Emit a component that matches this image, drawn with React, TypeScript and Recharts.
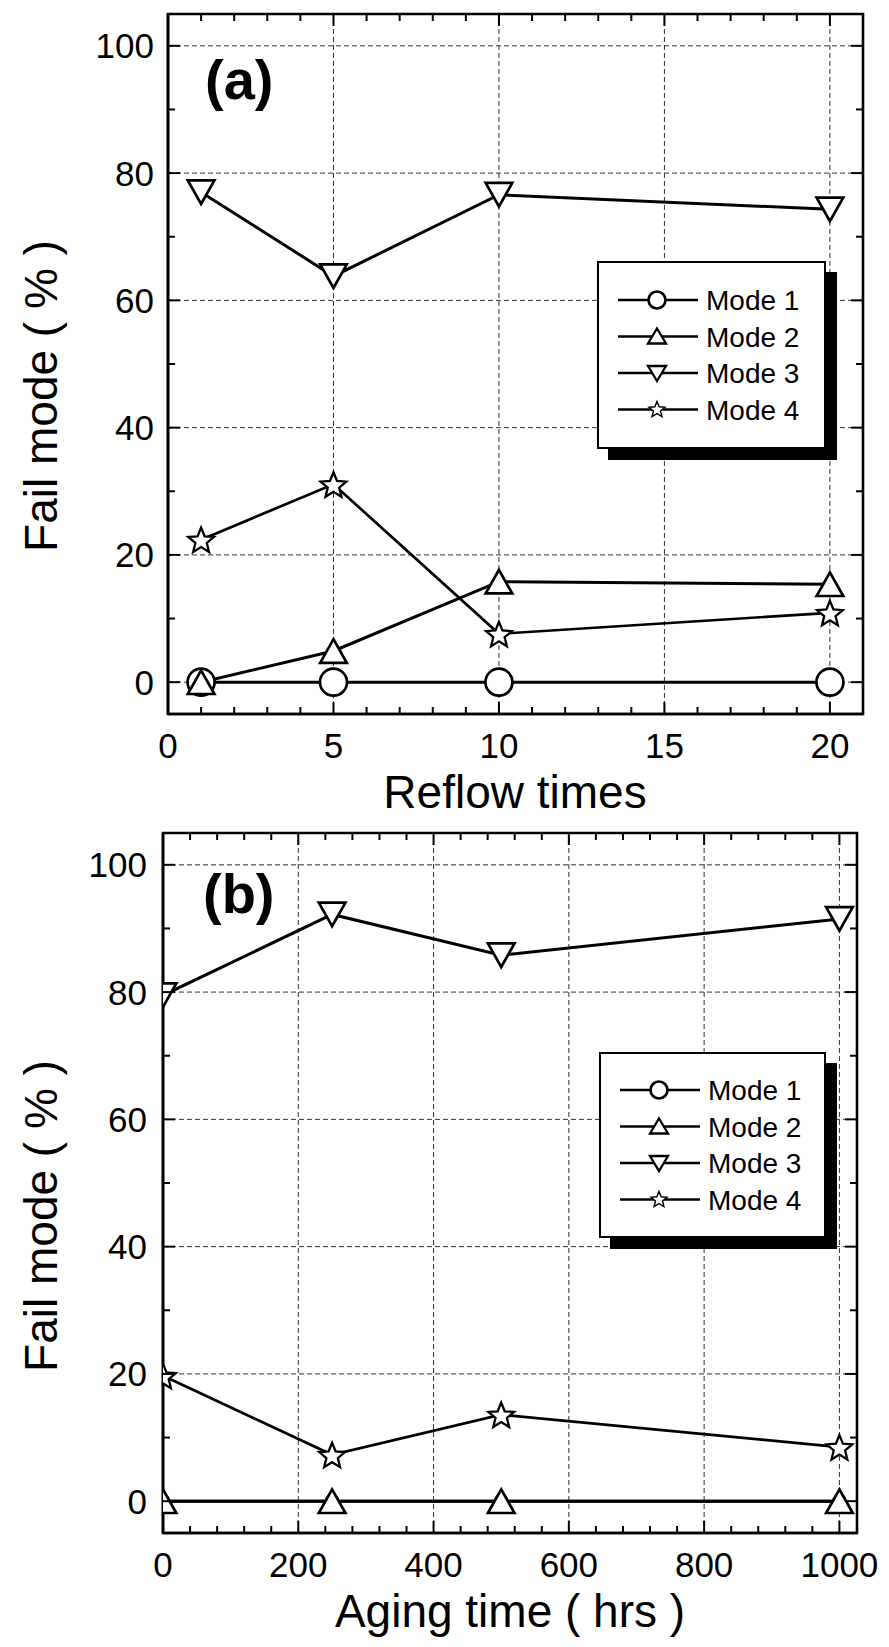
import { LineChart, Line, XAxis, YAxis, ReferenceLine, ReferenceArea, Legend } from 'recharts'

const FONT = '"Liberation Sans", Arial, sans-serif'

// panel (a): reflow
const reflowTimes = [1, 5, 10, 20]
const reflowMode1 = [0, 0, 0, 0]
const reflowMode2 = [0, 4.9, 15.8, 15.4]
const reflowMode3 = [77, 63.8, 76.6, 74.3]
const reflowMode4 = [22.4, 31.1, 7.6, 10.9]

// panel (b): aging
const agingTimes = [0, 250, 500, 1000]
const agingMode1 = [0, 0, 0, 0]
const agingMode2 = [0, 0, 0, 0]
const agingMode3 = [79.5, 92.2, 85.8, 91.5]
const agingMode4 = [19.7, 7.3, 13.6, 8.5]

const modeNames = ['Mode 1', 'Mode 2', 'Mode 3', 'Mode 4']

const yMajorTicks = [0, 20, 40, 60, 80, 100]
const yMinorTicks = [10, 30, 50, 70, 90]
const reflowMajorTicks = [0, 5, 10, 15, 20]
const reflowMinorTicks = [1, 2, 3, 4, 6, 7, 8, 9, 11, 12, 13, 14, 16, 17, 18, 19]
const agingMajorTicks = [0, 200, 400, 600, 800, 1000]
const agingMinorTicks = [40, 80, 120, 160, 240, 280, 320, 360, 440, 480, 520, 560, 640, 680, 720, 760, 840, 880, 920, 960]

const buildRows = (xs: number[], m1: number[], m2: number[], m3: number[], m4: number[]) =>
  xs.map((x, i) => ({ x, m1: m1[i], m2: m2[i], m3: m3[i], m4: m4[i] }))

const reflowRows = buildRows(reflowTimes, reflowMode1, reflowMode2, reflowMode3, reflowMode4)
const agingRows = buildRows(agingTimes, agingMode1, agingMode2, agingMode3, agingMode4)

const SW = 2.7

function Circle({ cx, cy, r = 13.5 }: any) {
  return <circle cx={cx} cy={cy} r={r} fill="#fff" stroke="#000" strokeWidth={SW} />
}
function TriUp({ cx, cy }: any) {
  const w = 13.3, h = 11.8
  return <polygon points={`${cx},${cy - h} ${cx + w},${cy + h} ${cx - w},${cy + h}`} fill="#fff" stroke="#000" strokeWidth={SW} />
}
function TriDown({ cx, cy }: any) {
  const w = 13.3, h = 11.8
  return <polygon points={`${cx - w},${cy - h} ${cx + w},${cy - h} ${cx},${cy + h}`} fill="#fff" stroke="#000" strokeWidth={SW} />
}
function Star({ cx, cy }: any) {
  const R = 13.5, r = 6
  const pts: string[] = []
  for (let k = 0; k < 10; k++) {
    const a = -Math.PI / 2 + (k * Math.PI) / 5
    const rr = k % 2 === 0 ? R : r
    pts.push(`${cx + rr * Math.cos(a)},${cy + 1.5 + rr * Math.sin(a)}`)
  }
  return <polygon points={pts.join(' ')} fill="#fff" stroke="#000" strokeWidth={2.3} />
}

function LegendBox({ width, height, rowTop }: { width: number; height: number; rowTop: number }) {
  return (
    <div
      style={{
        width,
        height,
        boxSizing: 'border-box',
        border: '2px solid #000',
        background: '#fff',
        boxShadow: '11px 11px 0 #000',
      }}
    >
      <svg width={width - 4} height={height - 4} style={{ display: 'block' }}>
        {modeNames.map((name, i) => {
          const y = rowTop + i * 36.5
          return (
            <g key={name}>
              <line x1={19} x2={99} y1={y} y2={y} stroke="#000" strokeWidth={2.6} />
              {i === 0 ? <Circle cx={58} cy={y} r={8.5} /> : null}
              {i === 1 ? <polygon points={`58,${y - 8} 67,${y + 7} 49,${y + 7}`} fill="#fff" stroke="#000" strokeWidth={2.3} /> : null}
              {i === 2 ? <polygon points={`49,${y - 7} 67,${y - 7} 58,${y + 8}`} fill="#fff" stroke="#000" strokeWidth={2.3} /> : null}
              {i === 3 ? <g transform={`translate(58 ${y}) scale(0.62) translate(-58 ${-y})`}><Star cx={58} cy={y - 1} /></g> : null}
              <text x={107} y={y + 10} fontSize={28} fontFamily={FONT} fill="#000">{name}</text>
            </g>
          )
        })}
      </svg>
    </div>
  )
}

function makeXTick(major: number[], plotTop: number) {
  return (props: any) => {
    const { x, y, payload } = props
    const isMajor = major.includes(payload.value)
    const len = isMajor ? 12 : 7
    return (
      <g>
        <line x1={x} x2={x} y1={y} y2={y - len} stroke="#000" strokeWidth={2} />
        <line x1={x} x2={x} y1={plotTop} y2={plotTop + len} stroke="#000" strokeWidth={2} />
        {isMajor ? (
          <text x={x} y={y + 44} textAnchor="middle" fontSize={35} fontFamily={FONT} fill="#000">
            {payload.value}
          </text>
        ) : null}
      </g>
    )
  }
}

function makeYTick(major: number[], plotRight: number, gap: number) {
  return (props: any) => {
    const { x, y, payload } = props
    const isMajor = major.includes(payload.value)
    const len = isMajor ? 12 : 7
    return (
      <g>
        <line x1={x} x2={x + len} y1={y} y2={y} stroke="#000" strokeWidth={2} />
        <line x1={plotRight} x2={plotRight - len} y1={y} y2={y} stroke="#000" strokeWidth={2} />
        {isMajor ? (
          <text x={x - gap} y={y + 12.5} textAnchor="end" fontSize={35} fontFamily={FONT} fill="#000">
            {payload.value}
          </text>
        ) : null}
      </g>
    )
  }
}

interface PanelProps {
  rows: any[]
  xDomain: [number, number]
  xMajor: number[]
  xMinor: number[]
  xTitle: string
  xTitleX: number
  letter: string
  letterX: number
  letterY: number
  height: number
  margin: { top: number; right: number; left: number; bottom: number }
  yAxisWidth: number
  xAxisHeight: number
  yGap: number
  legendPos: { left: number; top: number; width: number; height: number; rowTop: number }
  smallMode1?: boolean
}

function Panel(p: PanelProps) {
  const plotTop = p.margin.top
  const plotRight = 889 - p.margin.right
  const xTicks = [...p.xMajor, ...p.xMinor].sort((a, b) => a - b)
  const yTicks = [...yMajorTicks, ...yMinorTicks].sort((a, b) => a - b)
  const gridX = p.xMajor.filter((v) => v > p.xDomain[0])
  const ids = { xAxisId: 'x', yAxisId: 'y' }
  const line = { type: 'linear' as const, stroke: '#000', strokeWidth: 3, isAnimationActive: false, activeDot: false as const }

  return (
    <LineChart width={889} height={p.height} data={p.rows} margin={p.margin} style={{ fontFamily: FONT }}>
      <XAxis
        xAxisId="x"
        type="number"
        dataKey="x"
        domain={p.xDomain}
        allowDataOverflow
        ticks={xTicks}
        interval={0}
        height={p.xAxisHeight}
        tickLine={false}
        tickSize={0}
        tickMargin={0}
        axisLine={{ stroke: '#000', strokeWidth: 2.6 }}
        tick={makeXTick(p.xMajor, plotTop)}
        label={{
          content: () => (
            <text x={p.xTitleX} y={p.height - p.xAxisHeight + 94} textAnchor="middle" fontSize={46} fontFamily={FONT} fill="#000">
              {p.xTitle}
            </text>
          ),
        }}
      />
      <YAxis
        yAxisId="y"
        type="number"
        domain={[-5, 105]}
        allowDataOverflow
        ticks={yTicks}
        interval={0}
        width={p.yAxisWidth}
        tickLine={false}
        tickSize={0}
        tickMargin={0}
        axisLine={{ stroke: '#000', strokeWidth: 2.6 }}
        tick={makeYTick(yMajorTicks, plotRight, p.yGap)}
        label={{
          content: () => (
            <text transform="translate(57 396) rotate(-90)" textAnchor="middle" fontSize={46} fontFamily={FONT} fill="#000">
              Fail mode ( % )
            </text>
          ),
        }}
      />
      {yMajorTicks.map((v) => (
        <ReferenceLine key={'h' + v} {...ids} y={v} stroke="#333" strokeWidth={1} strokeDasharray="5 3" />
      ))}
      {gridX.map((v) => (
        <ReferenceLine key={'v' + v} {...ids} x={v} stroke="#333" strokeWidth={1} strokeDasharray="5 3" />
      ))}
      <Line {...ids} {...line} dataKey="m1" name={modeNames[0]} dot={(d: any) => <Circle key={d.index} cx={d.cx} cy={d.cy} r={p.smallMode1 ? 6 : 13.5} />} />
      <Line {...ids} {...line} dataKey="m2" name={modeNames[1]} dot={(d: any) => <TriUp key={d.index} cx={d.cx} cy={d.cy} />} />
      <Line {...ids} {...line} dataKey="m3" name={modeNames[2]} dot={(d: any) => <TriDown key={d.index} cx={d.cx} cy={d.cy} />} />
      <Line {...ids} {...line} dataKey="m4" name={modeNames[3]} strokeWidth={2.7} dot={(d: any) => <Star key={d.index} cx={d.cx} cy={d.cy} />} />
      <ReferenceArea
        {...ids}
        x1={p.xDomain[0]}
        x2={p.xDomain[1]}
        y1={-5}
        y2={105}
        fill="none"
        fillOpacity={0}
        stroke="#000"
        strokeWidth={2.6}
        ifOverflow="visible"
        label={{
          content: () => (
            <text x={p.letterX} y={p.letterY} fontSize={56} fontWeight="bold" fontFamily={FONT} fill="#000">
              {p.letter}
            </text>
          ),
        }}
      />
      <Legend
        layout="vertical"
        align="center"
        verticalAlign="middle"
        wrapperStyle={{ left: p.legendPos.left, top: p.legendPos.top, width: p.legendPos.width, height: p.legendPos.height }}
        content={() => <LegendBox width={p.legendPos.width} height={p.legendPos.height} rowTop={p.legendPos.rowTop} />}
      />
    </LineChart>
  )
}

export default function App() {
  return (
    <div style={{ position: 'absolute', left: 0, top: 0, width: 889, height: 1647, background: '#fff' }}>
      <div style={{ position: 'absolute', left: 0, top: 0 }}>
        <Panel
          rows={reflowRows}
          xDomain={[0, 21]}
          xMajor={reflowMajorTicks}
          xMinor={reflowMinorTicks}
          xTitle="Reflow times"
          xTitleX={515}
          letter="(a)"
          letterX={205}
          letterY={99}
          height={820}
          margin={{ top: 14, right: 26, left: 0, bottom: 0 }}
          yAxisWidth={168}
          xAxisHeight={106}
          yGap={14}
          legendPos={{ left: 597, top: 261, width: 229, height: 188, rowTop: 37 }}
        />
      </div>
      <div style={{ position: 'absolute', left: 0, top: 820 }}>
        <Panel
          rows={agingRows}
          xDomain={[0, 1026]}
          xMajor={agingMajorTicks}
          xMinor={agingMinorTicks}
          xTitle="Aging time ( hrs )"
          xTitleX={510}
          letter="(b)"
          letterX={203}
          letterY={93}
          height={827}
          margin={{ top: 13, right: 32, left: 0, bottom: 0 }}
          yAxisWidth={163}
          xAxisHeight={114}
          yGap={16}
          legendPos={{ left: 599, top: 232, width: 227, height: 186, rowTop: 36 }}
          smallMode1
        />
      </div>
    </div>
  )
}
